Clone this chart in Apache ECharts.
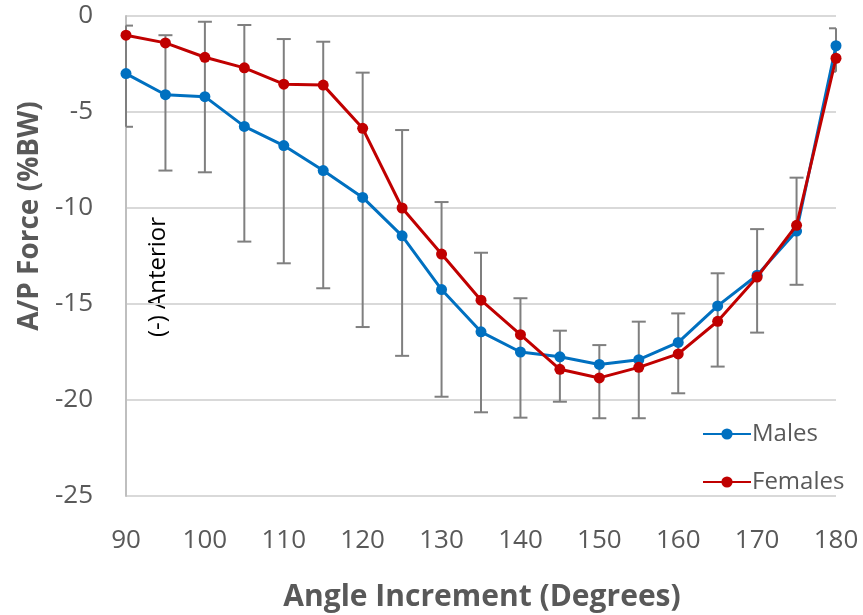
<!DOCTYPE html>
<html>
<head>
<meta charset="utf-8">
<script src="https://cdn.jsdelivr.net/npm/echarts@6/dist/echarts.min.js"></script>
<style>
html,body{margin:0;padding:0;background:#fff;}
#c{width:863px;height:615px;}
</style>
</head>
<body>
<div id="c"></div>
<script>
const angles = [90,95,100,105,110,115,120,125,130,135,140,145,150,155,160,165,170,175,180];
const males = [-3.0,-4.1,-4.2,-5.75,-6.75,-8.05,-9.45,-11.45,-14.25,-16.45,-17.5,-17.75,-18.15,-17.9,-17.0,-15.1,-13.5,-11.2,-1.55];
const females = [-1.0,-1.4,-2.15,-2.7,-3.55,-3.6,-5.85,-10.0,-12.4,-14.8,-16.6,-18.4,-18.85,-18.3,-17.6,-15.9,-13.6,-10.9,-2.2];
const errHigh = [-0.5,-1.0,-0.3,-0.47,-1.2,-1.34,-2.95,-5.94,-9.69,-12.33,-14.7,-16.39,-17.14,-15.92,-15.49,-13.4,-11.1,-8.42,-0.64];
const errLow = [-5.77,-8.05,-8.14,-11.75,-12.88,-14.18,-16.2,-17.7,-19.83,-20.64,-20.92,-20.09,-20.95,-20.95,-19.65,-18.26,-16.49,-14.0,-2.9];
const xTicks = {min:90, max:180, interval:10};
const yTicks = {min:-25, max:0, interval:5};

const FONT = '"Open Sans", "Liberation Sans", sans-serif';
const GRAY_TXT = '#595959';

const chart = echarts.init(document.getElementById('c'), null, {renderer:'canvas'});
const errData = angles.map((a,i)=>[a, errLow[i], errHigh[i]]);

chart.setOption({
  animation:false,
  backgroundColor:'#fff',
  grid:{left:126, right:27, top:16, bottom:119, containLabel:false},
  xAxis:{
    type:'value', min:xTicks.min, max:xTicks.max, interval:xTicks.interval,
    axisLine:{show:false}, axisTick:{show:false}, splitLine:{show:false},
    axisLabel:{fontFamily:FONT, fontSize:26, color:GRAY_TXT, margin:32}
  },
  yAxis:{
    type:'value', min:yTicks.min, max:yTicks.max, interval:yTicks.interval,
    axisLine:{show:true, lineStyle:{color:'#bfbfbf', width:2}}, axisTick:{show:false},
    splitLine:{show:true, lineStyle:{color:'#d9d9d9', width:2}},
    axisLabel:{fontFamily:FONT, fontSize:26, color:GRAY_TXT, margin:33}
  },
  legend:{
    orient:'vertical', left:697, top:414, itemGap:18, itemWidth:48, itemHeight:14,
    textStyle:{fontFamily:FONT, fontSize:24, color:GRAY_TXT, padding:[0,0,0,-4], lineHeight:30},
    data:['Males','Females']
  },
  graphic:[
    {
      type:'text', x:158, y:277, rotation:Math.PI/2,
      style:{text:'(-) Anterior', fontFamily:FONT, fontSize:24, fill:'#000', align:'center', verticalAlign:'middle'}
    },
    {
      type:'text', x:30, y:216, rotation:Math.PI/2,
      style:{text:'A/P Force (%BW)', fontFamily:FONT, fontSize:28, fontWeight:'bold', fill:GRAY_TXT, align:'center', verticalAlign:'middle'}
    },
    {
      type:'text', x:482, y:597,
      style:{text:'Angle Increment (Degrees)', fontFamily:FONT, fontSize:30, fontWeight:'bold', fill:GRAY_TXT, align:'center', verticalAlign:'middle'}
    }
  ],
  series:[
    {
      type:'custom', name:'err', data:errData, z:1,
      encode:{x:0, y:[1,2]},
      renderItem:function(params, api){
        const cs = params.coordSys;
        const x = api.value(0);
        const lo = api.coord([x, api.value(1)]);
        const hi = api.coord([x, api.value(2)]);
        const w = 7;
        const l = Math.max(cs.x, lo[0]-w), r = Math.min(cs.x+cs.width, lo[0]+w);
        const st = {stroke:'#7f7f7f', lineWidth:2};
        return {type:'group', children:[
          {type:'line', shape:{x1:lo[0],y1:lo[1],x2:hi[0],y2:hi[1]}, style:st},
          {type:'line', shape:{x1:l,y1:lo[1],x2:r,y2:lo[1]}, style:st},
          {type:'line', shape:{x1:l,y1:hi[1],x2:r,y2:hi[1]}, style:st}
        ]};
      }
    },
    {
      type:'line', name:'Males', data:angles.map((a,i)=>[a,males[i]]), z:3,
      symbol:'circle', symbolSize:11, lineStyle:{color:'#0070C0', width:3},
      itemStyle:{color:'#0070C0'}
    },
    {
      type:'line', name:'Females', data:angles.map((a,i)=>[a,females[i]]), z:4,
      symbol:'circle', symbolSize:11, lineStyle:{color:'#C00000', width:3},
      itemStyle:{color:'#C00000'}
    }
  ]
});
</script>
</body>
</html>
